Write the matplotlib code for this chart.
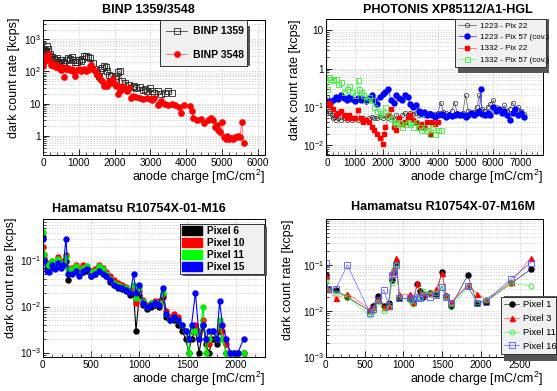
import numpy as np
import matplotlib
matplotlib.use("Agg")
import matplotlib.pyplot as plt
from matplotlib.ticker import FixedLocator, FixedFormatter, MultipleLocator, LogLocator, NullFormatter
from matplotlib.patches import Patch
from matplotlib.lines import Line2D

plt.rcParams['font.family'] = ['Liberation Sans', 'DejaVu Sans']
plt.rcParams['mathtext.fontset'] = 'custom'
plt.rcParams['mathtext.rm'] = 'Liberation Sans'
plt.rcParams['mathtext.it'] = 'Liberation Sans:italic'
plt.rcParams['mathtext.bf'] = 'Liberation Sans:bold'

# ---- panel 1: BINP ----
binp1359_x = [10, 30, 50, 70, 90, 110, 130, 160, 200, 250, 300, 350, 400, 450, 500, 550, 600, 650, 700, 750,
              800, 850, 900, 950, 1000, 1050, 1100, 1150, 1200, 1250, 1300, 1400, 1450, 1500, 1550, 1600, 1650,
              1700, 1750, 1800, 1850, 1900, 2000, 2050, 2100, 2150, 2200, 2300, 2400, 2500, 2550, 2600, 2700,
              2800, 2850, 2900, 3000, 3050, 3100, 3200, 3300, 3400, 3500, 3600]
binp1359_y = [350, 400, 450, 380, 420, 600, 500, 300, 350, 280, 250, 220, 260, 200, 230, 180, 200, 220, 260, 250,
              280, 220, 190, 200, 230, 210, 250, 300, 310, 290, 260, 180, 120, 90, 70, 110, 130, 150, 140, 100,
              80, 70, 60, 70, 95, 100, 50, 45, 38, 32, 35, 30, 32, 26, 28, 25, 30, 24, 22, 24, 20, 22, 25, 22]
binp3548_x = [10, 30, 60, 90, 120, 150, 180, 220, 260, 300, 350, 400, 450, 500, 550, 600, 650, 700, 750, 800,
              850, 900, 950, 1000, 1050, 1100, 1150, 1200, 1250, 1300, 1350, 1400, 1450, 1500, 1550, 1600, 1650,
              1700, 1750, 1800, 1850, 1900, 1950, 2000, 2050, 2100, 2150, 2200, 2250, 2300, 2350, 2400, 2450,
              2500, 2600, 2700, 2800, 2900, 3000, 3050, 3100, 3200, 3250, 3300, 3400, 3500, 3600, 3700, 3800,
              3850, 3950, 4100, 4150, 4200, 4300, 4400, 4500, 4600, 4650, 4700, 4750, 4800, 4850, 4900, 4950,
              5000, 5050, 5100, 5150, 5200, 5250, 5300, 5350, 5400, 5450, 5500, 5550, 5600]
binp3548_y = [150, 200, 250, 300, 220, 350, 250, 160, 180, 150, 140, 160, 130, 110, 140, 65, 120, 130, 110, 120,
              100, 70, 110, 120, 100, 110, 120, 100, 110, 150, 160, 120, 100, 80, 70, 60, 50, 35, 38, 35,
              50, 45, 60, 40, 35, 20, 25, 35, 30, 28, 25, 30, 15, 17, 16, 15, 14, 15, 14, 13,
              15, 9, 10, 12, 10, 9, 10, 9, 8, 5, 9, 8.5, 6, 3.5, 3, 3.2, 2.5, 3, 3.2, 3.5,
              3, 1.8, 2.2, 1.5, 1.3, 2.7, 0.9, 0.8, 1.0, 0.8, 0.85, 0.8, 0.9, 0.9, 1.0, 0.9, 2.6, 0.6]

# ---- panel 2: PHOTONIS ----
p1223_22_x = [0, 30, 60, 100, 150, 200, 250, 300, 400, 500, 600, 700, 800, 900, 1000, 1100, 1200, 1300, 1400,
              1500, 1600, 1700, 1800, 1900, 2000, 2100, 2200, 2300, 2400, 2500, 2600, 2700, 2800, 2900, 3000,
              3100, 3200, 3300, 3400, 3500, 3600, 3700, 3800, 3900, 4000, 4100, 4200, 4300, 4400, 4500, 4600,
              4700, 4800, 4900, 5000, 5100, 5200, 5300, 5400, 5500, 5600, 5700, 5800, 5900, 6000, 6100, 6200,
              6300, 6400, 6500, 6600, 6700, 6800, 6900, 7000, 7100]
p1223_22_y = [0.18, 0.1, 0.08, 0.07, 0.06, 0.05, 0.055, 0.045, 0.05, 0.045,
              0.05, 0.045, 0.05, 0.045, 0.05, 0.045, 0.05, 0.05, 0.045, 0.05,
              0.055, 0.05, 0.05, 0.055, 0.05, 0.06, 0.05, 0.055, 0.045, 0.06,
              0.05, 0.06, 0.07, 0.06, 0.07, 0.065, 0.07, 0.06, 0.065, 0.06,
              0.07, 0.07, 0.06, 0.065, 0.07, 0.13, 0.075, 0.07, 0.065, 0.08,
              0.13, 0.07, 0.065, 0.07, 0.2, 0.08, 0.07, 0.075, 0.1, 0.2,
              0.09, 0.08, 0.1, 0.12, 0.15, 0.1, 0.09, 0.08, 0.11, 0.08,
              0.09, 0.13, 0.09, 0.1, 0.08, 0.065]
p1223_57_x = [0, 50, 100, 200, 300, 400, 500, 600, 700, 800, 900, 1000, 1100, 1200, 1300, 1400, 1500, 1600,
              1700, 1800, 1900, 2000, 2100, 2200, 2300, 2400, 2500, 2600, 2700, 2800, 2900, 3000, 3100, 3200,
              3300, 3400, 3500, 3600, 3700, 3800, 3900, 4000, 4100, 4200, 4300, 4400, 4500, 4600, 4700, 4800,
              4900, 5000, 5100, 5200, 5300, 5400, 5500, 5550, 5600, 5700, 5800, 5900, 6000, 6100, 6200, 6300,
              6400, 6500, 6600, 6700, 6800, 6900, 7000, 7100]
p1223_57_y = [0.12, 0.14, 0.13,
              0.15, 0.18, 0.16, 0.2, 0.17, 0.15, 0.18, 0.16, 0.14, 0.17,
              0.15, 0.16, 0.14, 0.17, 0.2, 0.15, 0.12, 0.18, 0.22, 0.25,
              0.3, 0.15, 0.13, 0.2, 0.17, 0.15, 0.2, 0.18, 0.12, 0.1,
              0.11, 0.08, 0.07, 0.075, 0.06, 0.065, 0.06, 0.055, 0.06, 0.065,
              0.06, 0.055, 0.06, 0.058, 0.06, 0.065, 0.06, 0.06, 0.055, 0.06,
              0.07, 0.06, 0.07, 0.08, 0.3,
              0.065, 0.06, 0.07, 0.06, 0.1, 0.08, 0.09, 0.07, 0.08, 0.06,
              0.045, 0.07, 0.09, 0.06, 0.07, 0.055]
p1332_22_x = [0, 50, 100, 200, 300, 400, 500, 600, 700, 800, 900, 1000, 1100, 1200, 1300, 1400, 1500, 1600,
              1700, 1800, 1900, 2000, 2050, 2100, 2200, 2300, 2400, 2500, 2600, 2700, 2800, 2900, 3000, 3100,
              3200, 3300, 3400, 3500, 3600, 3700, 3800, 3900, 4000]
p1332_22_y = [0.12, 0.13, 0.11, 0.09, 0.06, 0.07, 0.08, 0.06, 0.05, 0.06, 0.05, 0.05, 0.085,
              0.05, 0.04, 0.045, 0.04, 0.03, 0.025, 0.02, 0.015, 0.011, 0.02,
              0.03, 0.06, 0.09, 0.03, 0.025, 0.05, 0.035, 0.04, 0.05, 0.06,
              0.045, 0.04, 0.03, 0.035, 0.03, 0.04, 0.02, 0.04, 0.035, 0.04]
p1332_57_x = [0, 50, 100, 200, 300, 400, 500, 600, 700, 800, 900, 1000, 1100, 1150, 1200, 1300, 1400, 1500,
              1600, 1700, 1800, 1900, 2000, 2100, 2200, 2300, 2400, 2500, 2600, 2700, 2800, 2900, 3000, 3100,
              3200, 3300, 3400, 3500, 3600, 3700, 3800, 3900, 4000, 4100]
p1332_57_y = [0.3, 0.6, 0.55, 0.5, 0.55, 0.4, 0.45, 0.25, 0.3, 0.35, 0.25, 0.2, 0.5, 0.3,
              0.25, 0.2, 0.15, 0.18, 0.15, 0.1, 0.08, 0.07, 0.06, 0.1,
              0.06, 0.05, 0.04, 0.035, 0.04, 0.03, 0.035, 0.04, 0.035, 0.03,
              0.04, 0.03, 0.025, 0.03, 0.025, 0.02, 0.03, 0.02, 0.025, 0.025]

# ---- panel 3: Hamamatsu R10754X-01-M16 ----
m16_x = [0, 15, 40, 70, 100, 130, 160, 190, 215, 240, 265, 300, 340, 380, 420, 460, 500, 540, 580, 620,
         660, 700, 740, 780, 820, 860, 905, 940, 965, 1000, 1040, 1080, 1120, 1160, 1200, 1240, 1280, 1320,
         1360, 1400, 1440, 1480, 1510, 1540, 1580, 1620, 1660, 1690, 1720, 1760, 1800, 1830, 1860, 1900,
         1940, 1980, 2020, 2080]
m16_pix6 = [0.33, 0.11, 0.07, 0.065, 0.085, 0.07, 0.09, 0.075, 0.08, 0.1,
            0.038, 0.055, 0.06, 0.05, 0.055, 0.06, 0.045, 0.05, 0.06, 0.055,
            0.045, 0.035, 0.03, 0.025, 0.024, 0.022, 0.018, 0.02, 0.003, 0.018,
            0.011, 0.009, 0.01, 0.011, 0.01, 0.016, 0.006, 0.005, 0.005, 0.004,
            0.003, 0.002, 0.001, 0.002, 0.003, 0.001, 0.004, 0.0015, 0.001, 0.002,
            0.0015, 0.003, 0.002, 0.001, 0.001, 0.001, 0.001, 0.001]
m16_pix10 = [0.2, 0.13, 0.09, 0.08, 0.1, 0.09, 0.12, 0.09, 0.1, 0.13,
             0.07, 0.07, 0.08, 0.065, 0.08, 0.07, 0.06, 0.065, 0.08, 0.07,
             0.055, 0.045, 0.038, 0.032, 0.03, 0.027, 0.022, 0.025, 0.012, 0.022,
             0.014, 0.011, 0.012, 0.013, 0.013, 0.018, 0.008, 0.006, 0.007, 0.006,
             0.004, 0.003, 0.002, 0.003, 0.004, 0.003, 0.005, 0.002, 0.0015, 0.003,
             0.002, 0.004, 0.003, 0.0015, 0.001, 0.001, 0.001, 0.001]
m16_pix11 = [0.42, 0.14, 0.085, 0.075, 0.1, 0.08, 0.11, 0.085, 0.09, 0.12,
             0.065, 0.065, 0.075, 0.06, 0.07, 0.075, 0.055, 0.06, 0.075, 0.065,
             0.05, 0.04, 0.033, 0.029, 0.027, 0.025, 0.021, 0.03, 0.015, 0.025,
             0.013, 0.01, 0.012, 0.012, 0.012, 0.02, 0.007, 0.005, 0.006, 0.005,
             0.004, 0.003, 0.001, 0.003, 0.003, 0.002, 0.01, 0.001, 0.002, 0.003,
             0.002, 0.005, 0.002, 0.001, 0.001, 0.001, 0.001, 0.001]
m16_pix15 = [0.3, 0.1, 0.06, 0.055, 0.08, 0.065, 0.09, 0.07, 0.08, 0.3,
             0.05, 0.05, 0.06, 0.045, 0.06, 0.065, 0.045, 0.05, 0.06, 0.05,
             0.045, 0.037, 0.03, 0.026, 0.025, 0.023, 0.02, 0.05, 0.02, 0.03,
             0.012, 0.01, 0.011, 0.012, 0.011, 0.025, 0.007, 0.005, 0.006, 0.005,
             0.004, 0.003, 0.002, 0.004, 0.02, 0.002, 0.004, 0.002, 0.003, 0.003,
             0.002, 0.013, 0.004, 0.002, 0.001, 0.001, 0.001, 0.002]

# ---- panel 4: Hamamatsu R10754X-07-M16M ----
m16m_x = [0, 25, 130, 280, 570, 610, 680, 750, 810, 850, 880, 910, 950, 1080, 1120, 1180, 1220, 1260,
          1350, 1420, 1500, 1550, 1620, 1830, 1950, 2060, 2390, 2640]
m16m_pix1 = [0.06, 0.03, 0.028, 0.02, 0.01, 0.013, 0.021, 0.013, 0.015, 0.047, 0.07, 0.11, 0.019, 0.018,
             0.015, 0.038, 0.027, 0.02, 0.025, 0.023, 0.07, 0.021, 0.013, 0.06, 0.015, 0.016, 0.04, 0.08]
m16m_pix3 = [0.06, 0.03, 0.019, 0.024, 0.011, 0.012, 0.018, 0.012, 0.013, 0.07, 0.09, 0.14, 0.023, 0.023,
             0.016, 0.04, 0.025, 0.025, 0.025, 0.03, 0.068, 0.022, 0.016, 0.037, 0.024, 0.018, 0.042, 0.14]
m16m_pix11 = [0.045, 0.028, 0.025, 0.02, 0.008, 0.01, 0.016, 0.01, 0.012, 0.04, 0.08, 0.1, 0.02, 0.017,
              0.014, 0.02, 0.019, 0.027, 0.024, 0.025, 0.032, 0.02, 0.012, 0.033, 0.016, 0.017, 0.04, 0.035]
m16m_pix16 = [0.11, 0.03, 0.03, 0.1, 0.009, 0.011, 0.017, 0.029, 0.013, 0.06, 0.065, 0.1, 0.019, 0.019,
              0.018, 0.02, 0.019, 0.022, 0.02, 0.022, 0.034, 0.02, 0.015, 0.035, 0.015, 0.016, 0.05, 0.11]

W, H = 557, 391
fig = plt.figure(figsize=(W / 100, H / 100), dpi=100)
GRID = '#c4c4c4'


def px_axes(l, t, r, b):
    return fig.add_axes([l / W, 1 - b / H, (r - l) / W, (b - t) / H])


def style(ax, xlim, ylim, xmaj, xmin_, yticks, ylabels):
    ax.set_yscale('log')
    ax.set_xlim(*xlim)
    ax.set_ylim(*ylim)
    ax.yaxis.set_major_locator(FixedLocator(yticks))
    ax.yaxis.set_major_formatter(FixedFormatter(ylabels))
    ax.yaxis.set_minor_locator(LogLocator(base=10, subs=[2, 3, 4, 5, 6, 7, 8, 9], numticks=20))
    ax.yaxis.set_minor_formatter(NullFormatter())
    ax.xaxis.set_major_locator(MultipleLocator(xmaj))
    ax.xaxis.set_minor_locator(MultipleLocator(xmin_))
    ax.tick_params(which='both', direction='in', labelsize=7.2, top=False, right=False, pad=2)
    ax.tick_params(axis='y', pad=1.5)
    ax.tick_params(which='major', length=4, width=0.6)
    ax.tick_params(which='minor', length=2, width=0.5)
    ax.grid(True, which='major', axis='both', color=GRID, ls=(0, (2, 2)), lw=0.5)
    ax.grid(True, which='minor', axis='y', color=GRID, ls=(0, (2, 2)), lw=0.5)
    for s in ax.spines.values():
        s.set_linewidth(0.7)
    ax.set_axisbelow(True)


def labels(title, tx, ty, ylx, yly, xlr, xly):
    fig.text(tx / W, 1 - ty / H, title, ha='center', va='center', fontsize=9, fontweight='bold')
    fig.text(ylx / W, 1 - yly / H, 'dark count rate [kcps]', rotation=90, ha='center', va='top', fontsize=9)
    fig.text(xlr / W, 1 - xly / H, 'anode charge [mC/cm$^2$]', ha='right', va='center', fontsize=9)


def legend_box(ax, handles, names, l, t, r, b, bold, fs, **kw):
    leg = ax.legend(handles, names, loc='center', bbox_to_anchor=(l / W, 1 - b / H, (r - l) / W, (b - t) / H),
                    bbox_transform=fig.transFigure, mode='expand', fancybox=False, shadow=False,
                    prop={'size': fs, 'weight': 'bold' if bold else 'normal'}, borderaxespad=0, **kw)
    leg.set_zorder(10)
    fr = leg.get_frame()
    fr.set_facecolor('#f0f0f0')
    fr.set_edgecolor('#333333')
    fr.set_linewidth(0.7)
    fr.set_alpha(1)
    # ROOT-style shadow behind the box
    ax.add_patch(plt.Rectangle(((l + 2.5) / W, 1 - (b + 2.5) / H), (r - l) / W, (b - t) / H,
                               transform=fig.transFigure, facecolor='#555555', edgecolor='none',
                               clip_on=False, zorder=9))
    return leg


# Panel 1
ax1 = px_axes(43, 20, 265, 155)
style(ax1, (0, 6200), (0.25, 4000), 1000, 200, [1, 10, 100, 1000], ['1', '10', '$10^2$', '$10^3$'])
ax1.plot(binp1359_x, binp1359_y, color='#444444', lw=0.6, marker='s', mfc='none', mec='#222222', ms=3.8, mew=0.6)
ax1.plot(binp3548_x, binp3548_y, color='#ff6666', lw=0.6, marker='o', mfc='red', mec='red', ms=3.8)
labels('BINP 1359/3548', 148, 10, 14, 18, 265, 177)
h1 = [Line2D([], [], color='#444444', lw=0.6, marker='s', mfc='none', mec='#222222', ms=3.8, mew=0.6),
      Line2D([], [], color='#ff6666', lw=0.6, marker='o', mfc='red', mec='red', ms=3.8)]
legend_box(ax1, h1, ['BINP 1359', 'BINP 3548'], 160, 23, 247, 63, True, 7.5,
           labelspacing=1.3, handlelength=2.0, handletextpad=0.6, borderpad=0.6)

# Panel 2
ax2 = px_axes(325.7, 19, 543, 155)
style(ax2, (-60, 7800), (0.0055, 20), 1000, 200, [0.01, 0.1, 1, 10], ['$10^{-2}$', '$10^{-1}$', '1', '10'])
ax2.plot(p1223_22_x, p1223_22_y, color='#555555', lw=0.5, marker='o', mfc='none', mec='#333333', ms=3.2, mew=0.5)
ax2.plot(p1223_57_x, p1223_57_y, color='#3333ff', lw=0.5, marker='o', mfc='blue', mec='blue', ms=3.6)
ax2.plot(p1332_22_x, p1332_22_y, color='#ff5555', lw=0.5, marker='s', mfc='red', mec='red', ms=3.4)
ax2.plot(p1332_57_x, p1332_57_y, color='#66ff66', lw=0.5, marker='s', mfc='none', mec='#33ee33', ms=3.6, mew=0.6)
labels('PHOTONIS XP85112/A1-HGL', 448, 10, 295, 20, 543, 177)
h2 = [Line2D([], [], color='#555555', lw=0.5, marker='o', mfc='none', mec='#333333', ms=3.2, mew=0.5),
      Line2D([], [], color='#3333ff', lw=0.5, marker='o', mfc='blue', mec='blue', ms=3.6),
      Line2D([], [], color='#ff5555', lw=0.5, marker='s', mfc='red', mec='red', ms=3.4),
      Line2D([], [], color='#66ff66', lw=0.5, marker='s', mfc='none', mec='#33ee33', ms=3.6, mew=0.6)]
legend_box(ax2, h2, ['1223 - Pix 22', '1223 - Pix 57 (cov.)', '1332 - Pix 22', '1332 - Pix 57 (cov.)'],
           455, 16, 546, 70, False, 5.8, labelspacing=0.45, handlelength=2.3, handletextpad=0.4, borderpad=0.35)

# Panel 3
ax3 = px_axes(42.7, 219, 265, 357)
style(ax3, (0, 2300), (0.0008, 0.8), 500, 100, [0.001, 0.01, 0.1], ['$10^{-3}$', '$10^{-2}$', '$10^{-1}$'])
for ys, c in [(m16_pix6, 'black'), (m16_pix10, 'red'), (m16_pix11, '#00ee00'), (m16_pix15, 'blue')]:
    ax3.plot(m16_x, ys, color=c, lw=0.8, marker='o', mfc=c, mec=c, ms=3.6)
labels('Hamamatsu R10754X-01-M16', 139, 209, 11, 217, 265, 379)
h3 = [Patch(facecolor=c, edgecolor=c) for c in ['black', 'red', '#00ff00', 'blue']]
legend_box(ax3, h3, ['Pixel 6', 'Pixel 10', 'Pixel 11', 'Pixel 15'], 180, 224, 264, 273, True, 7.2,
           labelspacing=0.2, handlelength=2.0, handleheight=1.0, handletextpad=0.5, borderpad=0.2)

# Panel 4
ax4 = px_axes(325.7, 219, 543, 357)
style(ax4, (0, 2800), (0.001, 1), 500, 100, [0.001, 0.01, 0.1], ['$10^{-3}$', '$10^{-2}$', '$10^{-1}$'])
ax4.plot(m16m_x, m16m_pix1, color='#333333', lw=0.5, marker='o', mfc='black', mec='black', ms=3.6)
ax4.plot(m16m_x, m16m_pix3, color='#ff5555', lw=0.5, marker='^', mfc='red', mec='red', ms=3.6)
ax4.plot(m16m_x, m16m_pix11, color='#55ff55', lw=0.5, marker='o', mfc='none', mec='#33ee33', ms=3.6, mew=0.6)
ax4.plot(m16m_x, m16m_pix16, color='#6666ff', lw=0.5, marker='s', mfc='none', mec='#5555ff', ms=4, mew=0.6)
labels('Hamamatsu R10754X-07-M16M', 443, 207, 288, 220, 543, 379)
h4 = [Line2D([], [], color='#333333', lw=0.5, marker='o', mfc='black', mec='black', ms=3.6),
      Line2D([], [], color='#ff5555', lw=0.5, marker='^', mfc='red', mec='red', ms=3.6),
      Line2D([], [], color='#55ff55', lw=0.5, marker='o', mfc='none', mec='#33ee33', ms=3.6, mew=0.6),
      Line2D([], [], color='#6666ff', lw=0.5, marker='s', mfc='none', mec='#5555ff', ms=4, mew=0.6)]
legend_box(ax4, h4, ['Pixel 1', 'Pixel 3', 'Pixel 11', 'Pixel 16'], 501, 293, 556, 358, False, 6.8,
           labelspacing=0.5, handlelength=1.6, handletextpad=0.4, borderpad=0.35)

fig.savefig('out.png', dpi=100)
